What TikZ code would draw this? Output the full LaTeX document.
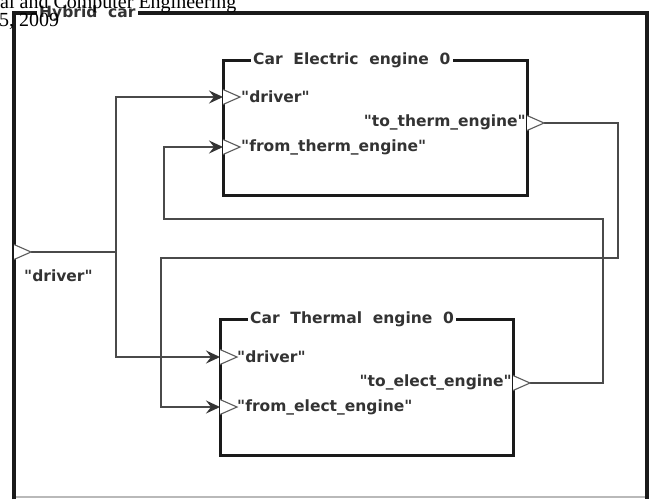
\documentclass[tikz,border=0pt]{standalone}
\usepackage{fontspec}
\usetikzlibrary{arrows.meta}
\newfontfamily\labfont{DejaVu Sans}[BoldFont={DejaVu Sans Bold}]
\newfontfamily\titlefont{DejaVu Sans}[BoldFont={DejaVu Sans Bold},WordSpace=2]
\newfontfamily\pagefont{Liberation Serif}
\definecolor{txtgray}{HTML}{333333}
\definecolor{boxline}{HTML}{1A1A1A}
\definecolor{wiregray}{HTML}{4A4A4A}
\definecolor{portgray}{HTML}{5A5A5A}
\tikzset{
  boxframe/.style={draw=boxline, line width=3pt},
  wire/.style={draw=wiregray, line width=1.5pt},
  arrowwire/.style={wire, -{Stealth[length=14pt,width=13pt,inset=5pt,fill=txtgray,color=txtgray]}},
  portlabel/.style={inner sep=0pt, text=txtgray, font=\labfont\bfseries\fontsize{15.5}{17}\selectfont},
  boxtitle/.style={inner sep=2pt, fill=white, text=txtgray, font=\titlefont\bfseries\fontsize{15.5}{17}\selectfont},
  pagetext/.style={inner sep=0pt, text=black, font=\pagefont\fontsize{20}{22}\selectfont},
  port/.pic={\draw[draw=portgray, line width=1.1pt, fill=white] (0,-7.5) -- (17,0) -- (0,7.5);}
}
\begin{document}
\begin{tikzpicture}[x=1pt,y=-1pt]
\useasboundingbox (0,0) rectangle (650,499);
\fill[white] (0,0) rectangle (650,499);
% outer frame
\draw[draw=gray!55, line width=1.2pt] (14,497) -- (647,497);
\draw[boxframe, line width=3.2pt] (14,499) -- (14,13) -- (647,13) -- (647,499);
\node[boxtitle, anchor=west] (hybridtitle) at (37,13) {Hybrid car};
% electric engine box
\draw[boxframe] (223,60) rectangle (527,195);
\node[boxtitle, anchor=west] (etitle) at (251,60) {Car Electric engine 0};
% thermal engine box
\draw[boxframe] (220,319) rectangle (513,455);
\node[boxtitle, anchor=west] (ttitle) at (248,319) {Car Thermal engine 0};
% port coordinates
\coordinate (odrv) at (14,252);  \coordinate (odrvtip) at (31,252);
\coordinate (edrv) at (223,97);
\coordinate (efrom) at (223,147);
\coordinate (eto) at (527,123);  \coordinate (etotip) at (544,123);
\coordinate (tdrv) at (220,357);
\coordinate (tfrom) at (220,407);
\coordinate (tto) at (513,383);  \coordinate (ttotip) at (530,383);
\coordinate (split) at (116,252);
% wires
\draw[wire] (odrvtip) -- (split);
\draw[arrowwire] (split) |- (edrv);
\draw[arrowwire] (split) |- (tdrv);
\draw[arrowwire] (etotip) -- (618,123) -- (618,258) -- (161,258) |- (tfrom);
\draw[arrowwire] (ttotip) -- (603,383) -- (603,219) -- (164,219) |- (efrom);
% ports
\pic at (odrv) {port};
\pic at (edrv) {port};
\pic at (efrom) {port};
\pic at (eto) {port};
\pic at (tdrv) {port};
\pic at (tfrom) {port};
\pic at (tto) {port};
% port labels
\node[portlabel, anchor=west] (odrvlab) at (24,276) {"driver"};
\node[portlabel, anchor=west] (edrvlab) at (241,97) {"driver"};
\node[portlabel, anchor=west] (efromlab) at (241,147) {"from\_therm\_engine"};
\node[portlabel, anchor=east] (etolab) at (526,122) {"to\_therm\_engine"};
\node[portlabel, anchor=west] (tdrvlab) at (237,357) {"driver"};
\node[portlabel, anchor=west] (tfromlab) at (237,407) {"from\_elect\_engine"};
\node[portlabel, anchor=east] (ttolab) at (512,382) {"to\_elect\_engine"};
% overlapping page text
\node[pagetext, anchor=base west] (pageline1) at (0,8) {al and Computer Engineering};
\node[pagetext, anchor=base west] (pageline2) at (-1,26) {5, 2009};
\end{tikzpicture}
\end{document}
